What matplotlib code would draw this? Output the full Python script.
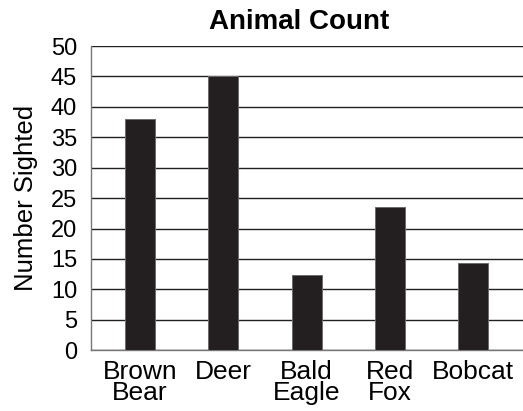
import matplotlib.pyplot as plt
import numpy as np

plt.rcParams['font.family'] = ['Liberation Sans', 'DejaVu Sans']

animals = ["Brown\nBear", "Deer", "Bald\nEagle", "Red\nFox", "Bobcat"]
counts = [38, 45, 12.4, 23.5, 14.4]
yticks = [0, 5, 10, 15, 20, 25, 30, 35, 40, 45, 50]

fig = plt.figure(figsize=(5.23, 4.11), dpi=100)
ax = fig.add_axes([0.174, 0.148, 0.826, 0.740])

x = np.arange(len(animals))
ax.bar(x, counts, width=0.36, color="#231f20", edgecolor="#6d6a6b",
       linewidth=0.7, zorder=3)

ax.set_ylim(0, 50)
ax.set_xlim(-0.59, 4.6)
ax.set_yticks(yticks)
ax.set_xticks(x)
ax.set_xticklabels(animals, fontsize=19, linespacing=0.87)
ax.tick_params(axis="y", labelsize=17, length=0, pad=10)
ax.tick_params(axis="x", length=0, pad=7)
ax.yaxis.grid(True, color="#231f20", linewidth=1.0, zorder=1)
ax.set_axisbelow(True)

for s in ["top", "right"]:
    ax.spines[s].set_visible(False)
for s in ["left", "bottom"]:
    ax.spines[s].set_color("#777777")
    ax.spines[s].set_linewidth(1.0)

ax.set_ylabel("Number Sighted", fontsize=18.5, labelpad=9)
ax.set_title("Animal Count", fontsize=20, fontweight="bold", pad=12, x=0.482)

fig.savefig("out.png", dpi=100)
